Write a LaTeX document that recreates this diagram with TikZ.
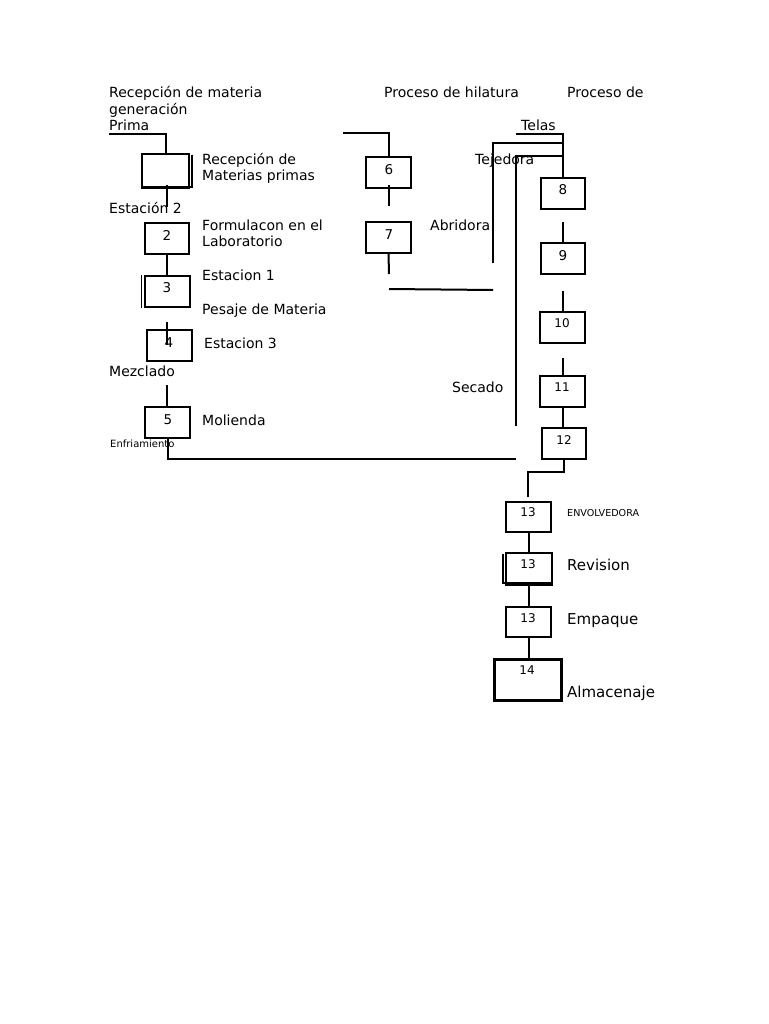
\documentclass[tikz,border=0pt]{standalone}
\usepackage{fontspec}
\setmainfont{DejaVu Sans}
\begin{document}
\begin{tikzpicture}[x=1pt,y=-1pt,
  txt/.style={anchor=base west,inner sep=0pt,font=\fontsize{14}{16}\selectfont},
  bigtxt/.style={anchor=base west,inner sep=0pt,font=\fontsize{15}{17}\selectfont},
  tinytxt/.style={anchor=base west,inner sep=0pt,font=\fontsize{10}{12}\selectfont},
  num/.style={anchor=base,inner sep=0pt,font=\fontsize{13.5}{15}\selectfont},
  snum/.style={anchor=base,inner sep=0pt,font=\fontsize{12}{13}\selectfont},
  box/.style={draw,line width=2pt,inner sep=0pt,minimum width=45pt,minimum height=31pt},
  ln/.style={line width=2pt}]
\fill[white] (0,0) rectangle (768,1024);
\useasboundingbox (0,0) rectangle (768,1024);

% ---------- boxes ----------
\node[box,minimum width=47pt,minimum height=34pt] (b1) at (165.5,171) {};
\node[box,minimum width=44pt] (b2) at (167,238.5) {};
\node[box] (b3) at (167.5,291.5) {};
\node[box] (b4) at (169.5,345.5) {};
\node[box] (b5) at (167.5,422.5) {};
\node[box] (b6) at (388.5,172.5) {};
\node[box] (b7) at (388.5,237.5) {};
\node[box,minimum width=44pt] (b8) at (563,193.5) {};
\node[box,minimum width=44pt] (b9) at (563,258.5) {};
\node[box] (b10) at (562.5,327.5) {};
\node[box] (b11) at (562.5,391.5) {};
\node[box,minimum width=44pt] (b12) at (564,443.5) {};
\node[box,minimum height=30pt] (b13a) at (528.5,517) {};
\node[box,minimum width=46pt,minimum height=32pt] (b13b) at (529,569) {};
\node[box,minimum height=30pt] (b13c) at (528.5,622) {};
\node[box,line width=3pt,minimum width=67pt,minimum height=41pt] (b14) at (527.5,679.5) {};

% shadows / double edges
\draw[ln] ([xshift=2pt,yshift=-2pt]b1.north east) -- ([xshift=2pt,yshift=2pt]b1.south east) -- ([xshift=2pt,yshift=2pt]b1.south west);
\draw[line width=1pt] ([xshift=-3pt]b3.north west) -- ([xshift=-3pt]b3.south west);
\draw[ln] ([xshift=-2pt,yshift=-2pt]b13b.north west) -- ([xshift=-2pt,yshift=3pt]b13b.south west) -- ([yshift=3pt]b13b.south east);

% ---------- numbers ----------
\node[num] (n2) at (167,240.8) {2};
\node[num] (n3) at (167,292.8) {3};
\node[num] (n4) at (169,347.8) {4};
\node[num] (n5) at (168,424.8) {5};
\node[num] (n6) at (389,174.8) {6};
\node[num] (n7) at (389,239.8) {7};
\node[num] (n8) at (563,194.8) {8};
\node[num] (n9) at (563,260.8) {9};
\node[snum] (n10) at (562,327.3) {10};
\node[snum] (n11) at (562,391.3) {11};
\node[snum] (n12) at (564,444.3) {12};
\node[snum] (n13a) at (528,516.3) {13};
\node[snum] (n13b) at (528,568.3) {13};
\node[snum] (n13c) at (528,622.3) {13};
\node[snum] (n14) at (527,674.3) {14};

% ---------- texts ----------
\node[txt] (t1) at (109,98) {Recepción de materia};
\node[txt] (t2) at (109,115) {generación};
\node[txt] (t3) at (109,131) {Prima};
\node[txt] (t4) at (384,98) {Proceso de hilatura};
\node[txt] (t5) at (567,98) {Proceso de};
\node[txt] (t6) at (521,131) {Telas};
\node[txt] (t7) at (202,165) {Recepción de};
\node[txt] (t8) at (202,181) {Materias primas};
\node[txt] (t9) at (109,214) {Estación 2};
\node[txt] (t10) at (202,231) {Formulacon en el};
\node[txt] (t11) at (202,247) {Laboratorio};
\node[txt] (t12) at (202,280) {Estacion 1};
\node[txt] (t13) at (202,314) {Pesaje de Materia};
\node[txt] (t14) at (204,348) {Estacion 3};
\node[txt] (t15) at (109,376) {Mezclado};
\node[txt] (t16) at (202,425) {Molienda};
\node[tinytxt] (t17) at (110,447.5) {Enfriamiento};
\node[txt] (t18) at (475,165) {Tejedora};
\node[txt] (t19) at (430,231) {Abridora};
\node[txt] (t20) at (452,392) {Secado};
\node[anchor=base west,inner sep=0pt,font=\fontsize{9.6}{11}\selectfont] (t21) at (567,516.5) {ENVOLVEDORA};
\node[bigtxt] (t22) at (567,570) {Revision};
\node[bigtxt] (t23) at (567,624) {Empaque};
\node[bigtxt] (t24) at (567,697) {Almacenaje};

% ---------- free line ends ----------
\coordinate (a0) at (109,134);
\coordinate (a1) at (167,185);
\coordinate (a2) at (167,207);
\coordinate (a3) at (167,322);
\coordinate (a4) at (167,345);
\coordinate (a5) at (167,385);
\coordinate (a6) at (516,459);
\coordinate (m0) at (343,133);
\coordinate (m1) at (389,185);
\coordinate (m2) at (389,206);
\coordinate (m3) at (389,274);
\coordinate (m4) at (389,289);
\coordinate (m5) at (493,290);
\coordinate (r0) at (516,134);
\coordinate (r1) at (563,143);
\coordinate (r2) at (493,263);
\coordinate (r3) at (563,156);
\coordinate (r4) at (516,426);
\coordinate (r5) at (563,222);
\coordinate (r6) at (563,291);
\coordinate (r7) at (563,358);
\coordinate (r8) at (564,472);
\coordinate (r9) at (528,497);

% ---------- connectors ----------
\draw[ln] (a0) -| (b1.north);
\draw[ln] (a1) -- (a2);
\draw[ln] (b2.south) -- (b2.south |- b3.north);
\draw[ln] (a3) -- (a4);
\draw[ln] (a5) -- (a5 |- b5.north);
\draw[ln] (b5.south) |- (a6);
\draw[ln] (m0) -| (b6.north);
\draw[ln] (m1) -- (m2);
\draw[ln] (b7.south) -- (m3);
\draw[ln] (m4) -- (m5);
\draw[ln] (r0) -| (b8.north);
\draw[ln] (r2) |- (r1);
\draw[ln] (r4) |- (r3);
\draw[ln] (r5) -- (b9.north);
\draw[ln] (r6) -- (r6 |- b10.north);
\draw[ln] (r7) -- (r7 |- b11.north);
\draw[ln] (b11.south) -- (b11.south |- b12.north);
\draw[ln] (b12.south) -- (r8) -| (r9);
\draw[ln] (b13a.south) -- (b13a.south |- b13b.north);
\draw[ln] (b13b.south) -- (b13b.south |- b13c.north);
\draw[ln] (b13c.south) -- (b13c.south |- b14.north);
\end{tikzpicture}
\end{document}
